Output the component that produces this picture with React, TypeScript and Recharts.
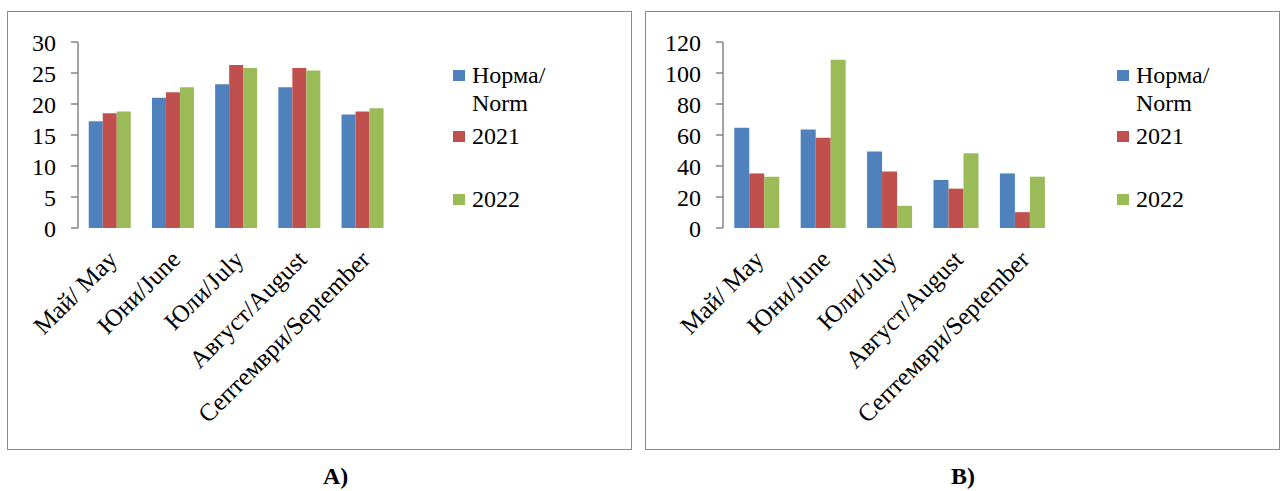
import React from 'react';
import { BarChart, Bar, XAxis, YAxis } from 'recharts';

const months = ['Май/ May', 'Юни/June', 'Юли/July', 'Август/August', 'Септември/September'];
const seriesNames = ['Норма/ Norm', '2021', '2022'];
const colors = ['#4f81bd', '#c0504d', '#9bbb59'];

// A) temperature
const normA = [17.2, 21.0, 23.2, 22.7, 18.3];
const y2021A = [18.5, 21.9, 26.3, 25.8, 18.8];
const y2022A = [18.8, 22.7, 25.8, 25.4, 19.3];
const ticksA = [0, 5, 10, 15, 20, 25, 30];

// B) precipitation
const normB = [64.7, 63.6, 49.3, 31.0, 35.2];
const y2021B = [35.2, 58.3, 36.5, 25.4, 10.2];
const y2022B = [33.1, 108.5, 14.3, 48.3, 33.1];
const ticksB = [0, 20, 40, 60, 80, 100, 120];

const edgeTicks = [0, 1, 2, 3, 4, 5];

const font = 'Liberation Serif, Times New Roman, serif';
const axisGrey = '#868686';

const build = (a: number[], b: number[], c: number[]) =>
  months.map((m, i) => ({ month: m, norm: a[i], y2021: b[i], y2022: c[i] }));

const dataA = build(normA, y2021A, y2022A);
const dataB = build(normB, y2021B, y2022B);

const RotTick = (props: any) => {
  const { x, y, payload } = props;
  const ax = x + 9;
  const ay = y + 33;
  return (
    <text
      x={ax}
      y={ay}
      transform={`rotate(-45, ${ax}, ${ay})`}
      textAnchor="end"
      fontSize={25}
      fontFamily={font}
      fill="#000"
    >
      {payload.value}
    </text>
  );
};

interface PanelProps {
  data: any[];
  ticks: number[];
  max: number;
  width: number;
  yWidth: number;
  rightMargin: number;
}

const Panel: React.FC<PanelProps> = ({ data, ticks, max, width, yWidth, rightMargin }) => (
  <BarChart
    width={width}
    height={460}
    data={data}
    margin={{ top: 42, right: rightMargin, left: 0, bottom: 0 }}
    barGap={0}
    barCategoryGap="17%"
  >
    <XAxis
      xAxisId="edges"
      type="number"
      domain={[0, 5]}
      ticks={edgeTicks}
      height={0}
      tick={false}
      tickSize={7}
      stroke={axisGrey}
      strokeWidth={1.5}
    />
    <XAxis
      xAxisId="cat"
      dataKey="month"
      height={232}
      axisLine={false}
      tickLine={false}
      tickSize={0}
      tickMargin={0}
      interval={0}
      tick={<RotTick />}
    />
    <YAxis
      domain={[0, max]}
      ticks={ticks}
      width={yWidth}
      tickSize={7}
      tickMargin={15}
      stroke={axisGrey}
      strokeWidth={1.5}
      tick={{ fill: '#000', fontSize: 24, fontFamily: font }}
      interval={0}
    />
    <Bar xAxisId="cat" dataKey="norm" name={seriesNames[0]} fill={colors[0]} isAnimationActive={false} />
    <Bar xAxisId="cat" dataKey="y2021" name={seriesNames[1]} fill={colors[1]} isAnimationActive={false} />
    <Bar xAxisId="cat" dataKey="y2022" name={seriesNames[2]} fill={colors[2]} isAnimationActive={false} />
  </BarChart>
);

const LegendBox: React.FC<{ left: number }> = ({ left }) => {
  const rows = [
    { top: 61, lines: ['Норма/', 'Norm'] },
    { top: 122, lines: ['2021'] },
    { top: 185, lines: ['2022'] },
  ];
  return (
    <>
      {rows.map((r, i) => (
        <div key={i} style={{ position: 'absolute', left, top: r.top, display: 'flex' }}>
          <div style={{ width: 12, height: 11, background: colors[i], marginTop: 9 }} />
          <div style={{ marginLeft: 7, fontFamily: font, fontSize: 24, lineHeight: '28px', color: '#000' }}>
            {r.lines.map((l, j) => (
              <div key={j}>{l}</div>
            ))}
          </div>
        </div>
      ))}
    </>
  );
};

export default function App() {
  return (
    <div style={{ position: 'absolute', left: 0, top: 0, width: 1283, height: 491, background: '#fff' }}>
      <div style={{ position: 'absolute', left: 7, top: 11, width: 623, height: 437, border: '1px solid #8a8a8a' }} />
      <div style={{ position: 'absolute', left: 645, top: 11, width: 633, height: 437, border: '1px solid #8a8a8a' }} />
      <div style={{ position: 'absolute', left: 0, top: 0 }}>
        <Panel data={dataA} ticks={ticksA} max={30} width={400} yWidth={78} rightMargin={6} />
      </div>
      <div style={{ position: 'absolute', left: 640, top: 0 }}>
        <Panel data={dataB} ticks={ticksB} max={120} width={420} yWidth={83} rightMargin={5} />
      </div>
      <LegendBox left={453} />
      <LegendBox left={1117} />
      <div style={{ position: 'absolute', left: 323, top: 462, fontFamily: font, fontWeight: 'bold', fontSize: 24, lineHeight: '28px' }}>A)</div>
      <div style={{ position: 'absolute', left: 951, top: 462, fontFamily: font, fontWeight: 'bold', fontSize: 24, lineHeight: '28px' }}>B)</div>
    </div>
  );
}
